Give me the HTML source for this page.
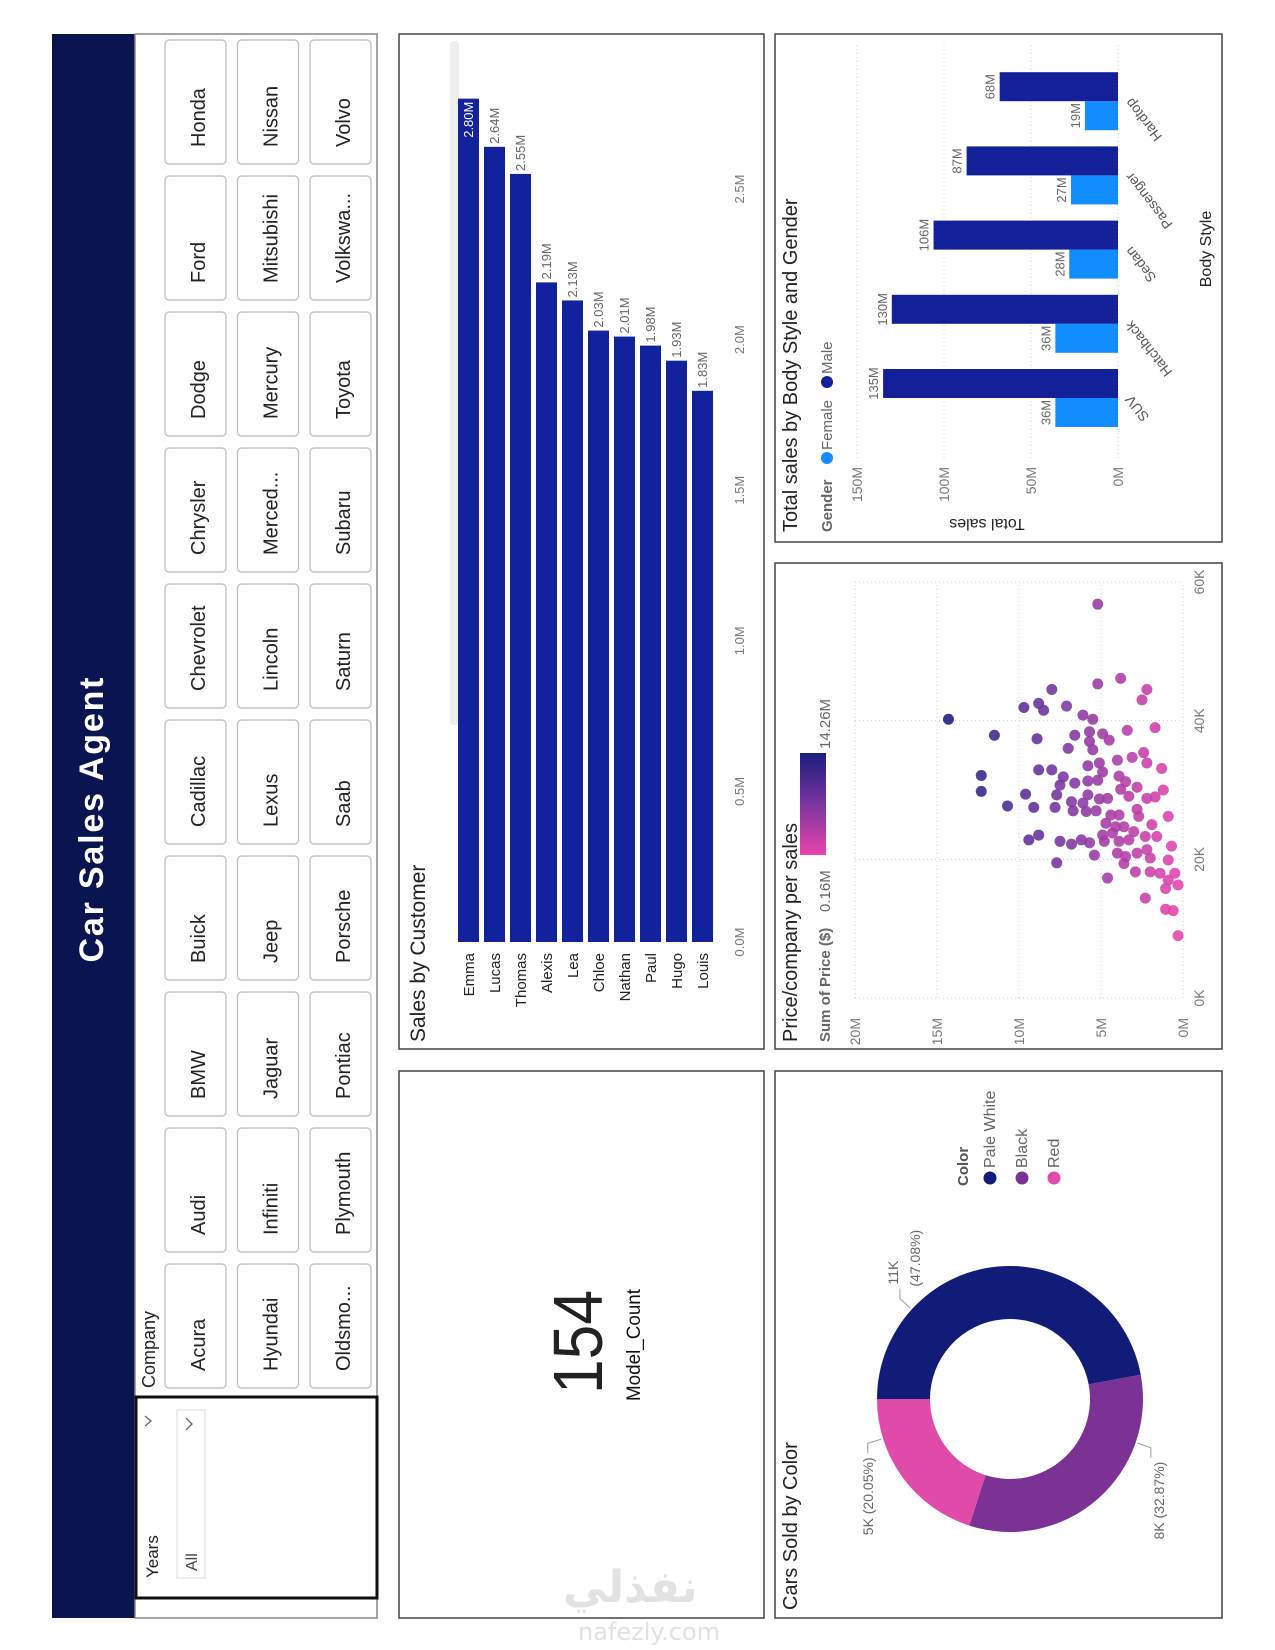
<!DOCTYPE html>
<html><head><meta charset="utf-8"><style>
html,body{margin:0;padding:0;background:#fff;width:1275px;height:1650px;overflow:hidden}
#land{position:absolute;left:0;top:0;width:1650px;height:1275px;transform-origin:0 0;transform:translateY(1650px) rotate(-90deg)}
svg text{font-family:"Liberation Sans",sans-serif}
.wm{position:absolute;color:#e2e2e2;font-family:"DejaVu Sans","Liberation Sans",sans-serif;font-weight:bold}
</style></head><body>
<div id="land">
<svg id="s" width="1650" height="1275" viewBox="0 0 1650 1275" xmlns="http://www.w3.org/2000/svg">
<rect x="32" y="52" width="1584" height="83" fill="#0a1450"/>
<text x="830" y="103" text-anchor="middle" font-size="34" font-weight="bold" fill="#fff" textLength="285">Car Sales Agent</text>
<rect x="32" y="135" width="1584" height="242" fill="#fff" stroke="#888" stroke-width="1.5"/>
<rect x="52" y="136" width="201" height="241" fill="#fff" stroke="#111" stroke-width="3"/>
<text x="72" y="158" font-size="17" fill="#222">Years</text>
<polyline points="224,145 229,151 234,145" fill="none" stroke="#666" stroke-width="1.3"/>
<rect x="72" y="177" width="168" height="28" fill="#fff" stroke="#ddd"/>
<text x="79" y="197" font-size="16" fill="#444">All</text>
<polyline points="220,186 226,192 232,186" fill="none" stroke="#666" stroke-width="1.3"/>
<text x="262" y="155" font-size="18" fill="#222">Company</text>
<g id="buttons"></g>
<rect x="601" y="399" width="1015" height="365" fill="#fff" stroke="#444" stroke-width="1.5"/>
<rect x="32" y="399" width="547" height="365" fill="#fff" stroke="#444" stroke-width="1.5"/>
<rect x="1108" y="775" width="508" height="447" fill="#fff" stroke="#444" stroke-width="1.5"/>
<rect x="601" y="775" width="486" height="447" fill="#fff" stroke="#444" stroke-width="1.5"/>
<rect x="32" y="775" width="547" height="447" fill="#fff" stroke="#444" stroke-width="1.5"/>
<text x="608" y="425" font-size="21" fill="#222">Sales by Customer</text>
<rect x="925" y="450" width="684" height="9" rx="4" fill="#eee"/>
<g id="cust"></g>
<text x="308" y="602" text-anchor="middle" font-size="70" fill="#222" textLength="104" lengthAdjust="spacingAndGlyphs">154</text>
<text x="305" y="640" text-anchor="middle" font-size="19" fill="#111" textLength="112" lengthAdjust="spacingAndGlyphs">Model_Count</text>
<text x="1118" y="797" font-size="20" fill="#222">Total sales by Body Style and Gender</text>
<text x="1118" y="832" font-size="15" font-weight="bold" fill="#666">Gender</text>
<circle cx="1192" cy="827" r="6" fill="#118dff"/>
<text x="1200" y="832" font-size="15" fill="#666">Female</text>
<circle cx="1268" cy="827" r="6" fill="#14209a"/>
<text x="1276" y="832" font-size="15" fill="#666">Male</text>
<g id="body"></g>
<text transform="translate(1131,987) rotate(-90)" text-anchor="middle" font-size="16" fill="#222">Total sales</text>
<text x="1401" y="1211" text-anchor="middle" font-size="16" fill="#222">Body Style</text>
<text x="608" y="797" font-size="20" fill="#222">Price/company per sales</text>
<defs><linearGradient id="grad" x1="0" x2="1" y1="0" y2="0"><stop offset="0" stop-color="#e944ab"/><stop offset="0.5" stop-color="#7b35a0"/><stop offset="1" stop-color="#1a1d7e"/></linearGradient></defs>
<text x="608" y="830" font-size="15" font-weight="bold" fill="#666">Sum of Price ($)</text>
<text x="738" y="830" font-size="15" fill="#666">0.16M</text>
<rect x="795" y="800" width="102" height="26" fill="url(#grad)"/>
<text x="901" y="830" font-size="15" fill="#666">14.26M</text>
<g id="scat"></g>
<text x="40" y="797" font-size="20" fill="#222">Cars Sold by Color</text>
<g id="donut"></g>
<text x="464" y="968" font-size="15" font-weight="bold" fill="#555">Color</text>
<g id="dleg"></g>
</svg>
</div>
<div class="wm" style="left:563px;top:1562px;font-size:44px;">نفذلي</div>
<div class="wm" style="left:578px;top:1618px;font-size:24px;font-weight:normal;">nafezly.com</div>
<script>
const NS='http://www.w3.org/2000/svg';
function el(tag,attrs,parent,txt){const e=document.createElementNS(NS,tag);for(const k in attrs)e.setAttribute(k,attrs[k]);if(txt!==undefined)e.textContent=txt;parent.appendChild(e);return e;}

const companyRow1=['Acura','Audi','BMW','Buick','Cadillac','Chevrolet','Chrysler','Dodge','Ford','Honda'];
const companyRow2=['Hyundai','Infiniti','Jaguar','Jeep','Lexus','Lincoln','Merced...','Mercury','Mitsubishi','Nissan'];
const companyRow3=['Oldsmo...','Plymouth','Pontiac','Porsche','Saab','Saturn','Subaru','Toyota','Volkswa...','Volvo'];
const bg=document.getElementById('buttons');
[companyRow1,companyRow2,companyRow3].forEach((row,r)=>{
  row.forEach((name,k)=>{
    const x=262+136*k,y=165+72.5*r;
    const g=el('g',{},bg);
    
    
    el('rect',{x:x,y:y,width:124,height:61,rx:4,fill:'#fff',stroke:'#bbb','stroke-width':1.2},g);
    el('text',{x:x+17,y:y+40,'font-size':20,fill:'#222'},g,name);
  });
});

const customers=['Emma','Lucas','Thomas','Alexis','Lea','Chloe','Nathan','Paul','Hugo','Louis'];
const customerSales=[2.80,2.64,2.55,2.19,2.13,2.03,2.01,1.98,1.93,1.83];
const customerTicks=[0,0.5,1.0,1.5,2.0,2.5];
const cg=document.getElementById('cust');
const cx=v=>708+v/2.5*753;
const cy=i=>458+26*i;
customerTicks.forEach(t=>{
  const e=el('text',{x:cx(t),y:744,'text-anchor':'middle','font-size':13,fill:'#777'},cg,t.toFixed(1)+'M');
  
  
});
customers.forEach((c,i)=>{
  const b=el('rect',{x:cx(0),y:cy(i),width:cx(customerSales[i])-cx(0),height:21,fill:'#12219c'},cg);
  
  
  const l=el('text',{x:697,y:cy(i)+16,'text-anchor':'end','font-size':15,fill:'#222'},cg,c);
  
  
  const inside=cx(customerSales[i])>1520;
  const v=el('text',{x:inside?cx(customerSales[i])-3:cx(customerSales[i])+3,y:cy(i)+15,'text-anchor':inside?'end':'start','font-size':13,fill:inside?'#fff':'#666'},cg,customerSales[i].toFixed(2)+'M');
  
  
});

const bodyStyles=['SUV','Hatchback','Sedan','Passenger','Hardtop'];
const femaleSales=[36,36,28,27,19];
const maleSales=[135,130,106,87,68];
const bodyTicks=[0,50,100,150];
const bgp=document.getElementById('body');
const by=v=>1118-v/150*261;
const bx=i=>1252+74.2*i;
bodyTicks.forEach(t=>{
  const gl=el('line',{x1:1192,x2:1605,y1:by(t),y2:by(t),stroke:'#ccc','stroke-dasharray':'1 3'},bgp);
  
  
  const tl=el('text',{x:1183,y:by(t)+5,'text-anchor':'end','font-size':14,fill:'#777'},bgp,t+'M');
  
  
});
bodyStyles.forEach((s,i)=>{
  const c=bx(i);
  const f=el('rect',{x:c-29,y:by(femaleSales[i]),width:29,height:by(0)-by(femaleSales[i]),fill:'#118dff'},bgp);
  
  
  const m=el('rect',{x:c,y:by(maleSales[i]),width:29,height:by(0)-by(maleSales[i]),fill:'#14209a'},bgp);
  
  
  const fl=el('text',{x:c-14.5,y:by(femaleSales[i])-5,'text-anchor':'middle','font-size':13,fill:'#666'},bgp,femaleSales[i]+'M');
  
  
  const ml=el('text',{x:c+14.5,y:by(maleSales[i])-5,'text-anchor':'middle','font-size':13,fill:'#666'},bgp,maleSales[i]+'M');
  
  
  const cl=el('text',{transform:'translate('+(c+4)+',1132) rotate(-38)','text-anchor':'end','font-size':14,fill:'#555'},bgp,s);
  
  
});

const priceK=[40.2,56.8,46.1,45.3,44.5,43.0,44.5,41.9,42.5,41.5,42.1,40.8,40.2,39.0,38.6,37.9,37.4,37.9,38.4,38.1,37.2,36.0,37.0,35.8,35.4,34.7,34.3,32.1,29.8,32.9,32.9,33.5,33.9,33.9,33.1,31.9,32.6,30.7,31.0,31.3,31.4,32.0,31.2,30.1,30.4,30.0,29.4,29.3,29.3,28.7,28.8,29.1,28.8,29.0,27.7,27.5,27.5,28.3,27.0,28.1,26.9,27.0,26.4,26.4,27.2,26.2,26.2,25.2,24.7,24.7,24.0,25.0,22.8,23.5,22.6,22.2,22.8,22.4,23.5,22.6,23.8,22.6,22.8,23.3,23.3,21.9,20.6,20.9,20.4,20.9,21.4,20.2,19.5,19.9,19.4,18.2,18.2,18.0,18.0,17.0,16.3,17.3,15.8,14.4,12.8,12.6,9.0];
const salesM=[14.3,5.2,3.8,5.2,2.2,2.5,8.0,9.7,8.8,8.5,7.1,6.1,5.5,1.7,3.4,11.5,8.9,6.6,5.7,4.9,4.5,7.0,5.7,5.5,2.4,3.1,4.0,12.3,12.3,8.8,8.0,5.8,5.1,2.2,1.3,7.3,4.9,7.5,6.6,5.8,5.2,3.9,3.5,3.8,2.8,1.2,9.6,7.7,5.8,5.1,4.6,3.3,2.2,1.7,10.7,9.1,7.8,6.8,6.7,6.1,5.9,5.3,4.4,3.9,2.8,2.7,0.9,4.7,4.1,3.6,3.0,1.9,9.4,8.8,7.5,6.8,6.2,5.7,4.9,4.8,4.3,3.9,3.3,2.3,1.6,0.7,5.4,4.0,3.5,2.8,2.2,2.0,7.7,0.9,3.6,2.9,2.0,1.4,0.5,0.9,0.3,4.6,1.06,2.3,1.06,0.6,0.3];
const scatterXTicks=[0,20,40,60];
const scatterYTicks=[0,5,10,15,20];
const sg=document.getElementById('scat');
const sx=k=>652+k/60*416;
const sy=m=>1183-m/20*328;
scatterXTicks.forEach(t=>{
  const gl=el('line',{x1:sx(t),x2:sx(t),y1:sy(20),y2:sy(0),stroke:'#ccc','stroke-dasharray':'1 3'},sg);
  
  
  const tl=el('text',{x:sx(t),y:1204,'text-anchor':'middle','font-size':14,fill:'#777'},sg,t+'K');
  
  
});
scatterYTicks.forEach(t=>{
  const gl=el('line',{x1:sx(0),x2:sx(60),y1:sy(t),y2:sy(t),stroke:'#ccc','stroke-dasharray':'1 3'},sg);
  
  
  const tl=el('text',{x:632,y:sy(t)+5,'text-anchor':'end','font-size':14,fill:'#777'},sg,t+'M');
  
  
});
function lerp(a,b,t){return a.map((v,i)=>Math.round(v+(b[i]-v)*t));}
function colorFor(v){
  const t=Math.min(1,Math.max(0,v/14.26));
  const p=[233,68,171],m=[123,53,160],n=[26,29,126];
  const c=t<0.5?lerp(p,m,t/0.5):lerp(m,n,(t-0.5)/0.5);
  return 'rgb('+c.join(',')+')';
}
priceK.forEach((k,i)=>{
  const d=el('circle',{cx:sx(k),cy:sy(salesM[i]),r:5.5,fill:colorFor(salesM[i]),'fill-opacity':0.88},sg);
  
  
});

const colorNames=['Pale White','Black','Red'];
const colorCounts=[11,8,5];
const colorPercents=[47.08,32.87,20.05];
const sliceColors=['#111c78','#7b3294','#e04aa9'];
const dg=document.getElementById('donut');
const DX=251,DY=1010,RO=133,RI=80;
const labelFrac=[0.25,0.25,0.76];
let a0=0;
function pt(r,a){return [DX+r*Math.sin(a),DY-r*Math.cos(a)];}
colorPercents.forEach((p,i)=>{
  const a1=a0+p/100*2*Math.PI;
  const large=(a1-a0)>Math.PI?1:0;
  const [x0,y0]=pt(RO,a0),[x1,y1]=pt(RO,a1),[x2,y2]=pt(RI,a1),[x3,y3]=pt(RI,a0);
  const path=el('path',{d:`M${x0},${y0}A${RO},${RO} 0 ${large} 1 ${x1},${y1}L${x2},${y2}A${RI},${RI} 0 ${large} 0 ${x3},${y3}Z`,fill:sliceColors[i]},dg);
  
  
  const am=a0+(a1-a0)*labelFrac[i];
  const [ex,ey]=pt(RO+2,am),[lx,ly]=pt(RO+16,am);
  const right=Math.sin(am)>=0;
  const hx=right?lx+10:lx-10;
  const ln=el('polyline',{points:`${ex},${ey} ${lx},${ly} ${hx},${ly}`,fill:'none',stroke:'#999'},dg);
  
  
  const lbl=el('text',{x:right?hx+4:hx-4,y:ly,'text-anchor':right?'start':'end','font-size':14,fill:'#666'},dg);
  
  
  if(i===0){
    el('tspan',{x:hx+4,y:ly-2},lbl,colorCounts[i]+'K');
    el('tspan',{x:hx+2,y:ly+20},lbl,'('+p.toFixed(2)+'%)');
  } else {
    lbl.setAttribute('y', ly+ (i===1?13:5));
    lbl.textContent=colorCounts[i]+'K ('+p.toFixed(2)+'%)';
  }
  a0=a1;
});
const lg=document.getElementById('dleg');
colorNames.forEach((n,i)=>{
  const y=990+32*i;
  const d=el('circle',{cx:472,cy:y,r:6.5,fill:sliceColors[i]},lg);
  
  
  const t=el('text',{x:482,y:y+5,'font-size':16,fill:'#666'},lg,n);
  
  
});
</script>
</body></html>
